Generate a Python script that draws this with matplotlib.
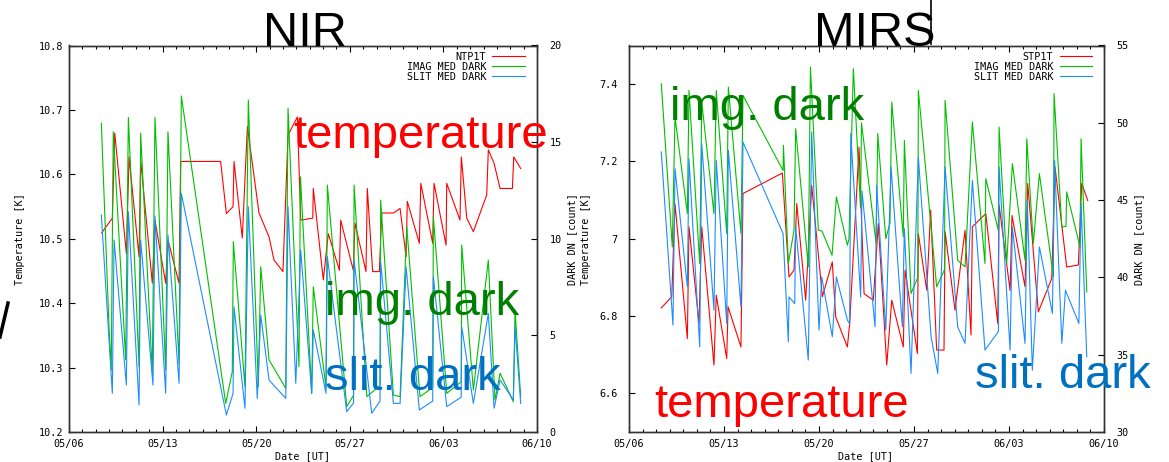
import numpy as np
import pandas as pd
import matplotlib
matplotlib.use("Agg")
import matplotlib.pyplot as plt
import matplotlib.dates as mdates
from matplotlib.lines import Line2D
from matplotlib.ticker import FormatStrFormatter

# ---- NIR panel data (x = days since 05/06) ----
nir_temp_day = [2.44, 3.24, 3.42, 4.29, 4.49, 5.24, 5.36, 6.23,
                6.43, 7.23, 7.40, 8.23, 8.35, 11.34, 11.77, 12.27,
                12.34, 12.96, 13.34, 14.21, 14.96, 15.33, 16.00, 16.38,
                17.08, 17.33, 18.23, 18.27, 19.02, 19.39, 20.22, 20.32,
                21.26, 21.39, 22.21, 22.31, 22.71, 23.21, 23.39, 24.26,
                24.76, 25.21, 25.30, 26.20, 26.31, 27.20, 27.30, 28.20,
                28.25, 29.24, 29.34, 29.75, 30.24, 31.24, 31.36, 31.79,
                32.24, 33.16, 33.26, 33.78]
nir_temp = [10.509, 10.532, 10.664, 10.477, 10.627, 10.472, 10.622, 10.431,
            10.529, 10.431, 10.498, 10.431, 10.620, 10.620, 10.539, 10.550,
            10.620, 10.501, 10.674, 10.540, 10.503, 10.467, 10.449, 10.661,
            10.689, 10.529, 10.532, 10.578, 10.436, 10.508, 10.451, 10.529,
            10.451, 10.524, 10.449, 10.578, 10.449, 10.449, 10.540, 10.540,
            10.547, 10.472, 10.558, 10.493, 10.586, 10.493, 10.586, 10.490,
            10.586, 10.529, 10.627, 10.532, 10.511, 10.568, 10.638, 10.617,
            10.578, 10.578, 10.627, 10.609]

nir_img_day = [2.42, 2.99, 3.16, 3.31, 4.24, 4.44, 5.24, 5.36,
               6.23, 6.43, 7.23, 7.40, 8.23, 8.40, 11.72, 12.21,
               12.29, 13.16, 13.41, 14.16, 14.34, 14.96, 16.21, 16.38,
               17.20, 17.31, 18.15, 18.27, 19.22, 19.32, 20.77, 21.28,
               21.32, 22.27, 23.26, 23.31, 24.26, 24.76, 25.26, 26.25,
               27.20, 27.25, 28.25, 29.33, 29.37, 30.24, 31.36, 31.86,
               32.24, 33.23, 33.36, 33.78]
nir_img = [15.97, 5.45, 3.20, 15.54, 3.73, 16.28, 3.38, 15.46,
           3.04, 16.28, 3.21, 15.54, 3.55, 17.39, 1.48, 3.12,
           9.85, 2.34, 17.18, 2.34, 8.55, 3.73, 2.26, 16.75,
           3.38, 13.20, 2.00, 7.52, 2.30, 12.78, 1.31, 1.90,
           12.78, 1.83, 2.40, 12.00, 1.91, 1.83, 10.62, 1.83,
           2.30, 11.14, 2.00, 2.60, 9.68, 2.17, 8.90, 1.66,
           3.04, 1.57, 6.30, 1.83]

nir_slit_day = [2.42, 3.24, 3.37, 4.29, 4.44, 5.24, 5.36, 6.28,
                6.43, 7.23, 7.40, 8.23, 8.40, 11.77, 12.27, 12.34,
                13.16, 13.41, 14.08, 14.34, 14.96, 16.21, 16.38, 16.96,
                17.33, 18.15, 18.27, 19.22, 19.32, 20.77, 21.28, 21.32,
                22.64, 23.26, 23.31, 24.26, 24.76, 25.21, 26.20, 27.20,
                27.25, 28.25, 29.33, 29.37, 30.24, 31.36, 31.79, 32.24,
                33.23, 33.36, 33.78]
nir_slit = [11.23, 2.00, 9.94, 2.43, 11.40, 1.40, 9.94, 2.43,
            11.18, 2.00, 10.20, 2.52, 12.35, 0.88, 2.00, 6.48,
            1.23, 11.66, 1.74, 6.05, 2.69, 1.74, 11.66, 2.52,
            9.42, 2.00, 5.28, 2.00, 9.07, 1.05, 1.50, 8.90,
            0.97, 1.60, 8.81, 1.48, 1.48, 8.55, 1.14, 1.60,
            8.04, 1.31, 1.80, 5.45, 1.48, 6.14, 1.23, 2.69,
            1.66, 5.45, 1.48]

# ---- MIRS panel data ----
mirs_temp_day = [2.38, 3.15, 3.39, 4.30, 4.42, 5.16, 5.36, 6.26,
                 6.43, 7.20, 7.30, 8.25, 8.40, 11.30, 11.79, 12.16,
                 12.36, 13.02, 13.46, 14.25, 14.98, 15.23, 16.09, 16.26,
                 16.95, 17.32, 18.00, 18.37, 18.99, 19.36, 20.21, 20.34,
                 21.25, 21.32, 21.94, 22.23, 22.67, 23.21, 23.29, 24.02,
                 24.76, 25.20, 25.30, 26.29, 27.17, 27.27, 28.08, 28.22,
                 29.18, 29.38, 30.16, 31.15, 31.39, 32.25, 33.11, 33.36,
                 33.80]
mirs_temp = [6.821, 6.850, 7.090, 6.742, 7.031, 6.781, 7.031, 6.673,
             6.854, 6.690, 6.824, 6.720, 7.117, 7.170, 6.901, 6.919,
             7.091, 6.841, 7.138, 6.850, 6.940, 6.798, 6.720, 6.781,
             7.237, 6.858, 6.841, 7.039, 6.673, 6.841, 6.720, 6.919,
             6.703, 7.013, 6.867, 7.074, 6.712, 6.712, 7.018, 6.815,
             7.022, 6.751, 7.031, 7.065, 6.781, 7.087, 6.866, 7.060,
             6.876, 7.143, 6.811, 6.897, 7.186, 6.927, 6.932, 7.143,
             7.099]

mirs_img_day = [2.38, 3.19, 3.39, 4.30, 4.42, 5.21, 5.36, 6.26,
                6.43, 7.20, 7.32, 8.25, 8.40, 11.35, 11.38, 11.74,
                12.16, 12.28, 13.21, 13.37, 13.95, 14.22, 14.96, 15.28,
                16.09, 16.21, 16.53, 17.06, 17.13, 18.21, 18.33, 18.92,
                19.23, 19.36, 20.21, 20.29, 20.78, 21.28, 21.32, 22.67,
                23.25, 23.29, 24.22, 24.76, 25.30, 26.23, 26.29, 27.21,
                27.27, 27.83, 28.25, 29.18, 29.31, 29.79, 30.24, 31.27,
                31.32, 31.89, 32.20, 32.25, 33.23, 33.31, 33.73]
mirs_img = [52.53, 41.97, 50.37, 44.13, 52.09, 40.90, 51.34, 44.13,
            52.09, 42.84, 52.31, 42.84, 51.77, 46.92, 48.54, 40.90,
            43.05, 49.62, 40.68, 53.60, 43.05, 43.00, 41.43, 45.20,
            42.08, 42.50, 53.50, 44.50, 50.00, 42.19, 49.30, 42.51,
            43.50, 51.34, 42.62, 48.86, 38.96, 40.00, 52.09, 39.39,
            40.50, 51.45, 41.11, 40.68, 50.05, 40.90, 46.39, 43.05,
            49.72, 40.90, 47.36, 41.11, 48.97, 42.19, 46.71, 40.03,
            51.88, 43.26, 43.30, 45.53, 41.97, 48.97, 39.06]

mirs_slit_day = [2.38, 3.24, 3.39, 4.30, 4.42, 5.21, 5.36, 6.26,
                 6.43, 7.20, 7.32, 8.25, 8.40, 11.35, 11.74, 11.79,
                 12.21, 12.28, 13.21, 13.46, 14.00, 14.20, 14.98, 15.28,
                 16.09, 16.26, 16.34, 17.07, 17.17, 18.13, 18.25, 18.92,
                 19.31, 20.14, 20.29, 20.78, 21.32, 22.26, 22.75, 23.29,
                 24.22, 24.76, 25.30, 26.23, 27.22, 27.27, 28.08, 28.25,
                 29.18, 29.35, 29.72, 30.24, 31.20, 31.36, 31.89, 32.16,
                 33.15, 33.31, 33.73]
mirs_slit = [48.11, 36.91, 47.03, 39.39, 47.68, 35.51, 48.65, 37.88,
             47.57, 37.02, 48.22, 38.09, 48.75, 42.84, 35.83, 38.74,
             38.30, 43.26, 34.65, 49.40, 36.59, 40.03, 36.16, 40.03,
             37.24, 37.00, 49.30, 38.74, 45.60, 36.80, 45.96, 36.59,
             47.14, 36.80, 43.16, 33.79, 47.78, 36.16, 33.79, 47.14,
             36.80, 35.73, 46.28, 35.30, 36.50, 47.14, 35.30, 43.26,
             35.73, 44.99, 34.00, 41.97, 37.67, 47.57, 35.73, 39.17,
             37.02, 44.77, 34.86]

legend_img = "IMAG MED DARK"
legend_slit = "SLIT MED DARK"

start = pd.Timestamp("2024-05-06")
end = pd.Timestamp("2024-06-10")
major_days = pd.date_range(start, end, freq="7D")
minor_days = pd.date_range(start, end, freq="1D")

RED = "#ff0000"
GREEN = "#00c000"
BLUE = "#1e8cff"
MONO = ["DejaVu Sans Mono"]
SANS = ["Liberation Sans", "DejaVu Sans"]
W, H = 1169, 462


def to_dates(days):
    return start + pd.to_timedelta(np.array(days), unit="D")


fig = plt.figure(figsize=(W / 100, H / 100), dpi=100)


def panel(rect, temp_d, temp, img_d, img, slit_d, slit, temp_name,
          tlim, tticks, tfmt, dlim, dticks, left_pad):
    ax = fig.add_axes(rect)
    ax2 = ax.twinx()
    l1, = ax.plot(to_dates(temp_d), temp, color=RED, lw=0.8, label=temp_name)
    l2, = ax2.plot(to_dates(img_d), img, color=GREEN, lw=0.8, label=legend_img)
    l3, = ax2.plot(to_dates(slit_d), slit, color=BLUE, lw=0.8, label=legend_slit)

    ax.set_xlim(start, end)
    ax.set_xticks(major_days)
    ax.set_xticks(minor_days, minor=True)
    ax.xaxis.set_major_formatter(mdates.DateFormatter("%m/%d"))
    ax.set_ylim(*tlim)
    ax.set_yticks(tticks)
    ax.yaxis.set_major_formatter(FormatStrFormatter(tfmt))
    ax2.set_ylim(*dlim)
    ax2.set_yticks(dticks)

    ax.tick_params(axis="x", which="major", direction="in", top=True,
                   length=4.5, width=0.8, pad=5, labelsize=7.3)
    ax.tick_params(axis="x", which="minor", direction="in", top=True,
                   length=2.5, width=0.8)
    ax.tick_params(axis="y", direction="in", length=4, width=0.8,
                   pad=left_pad, labelsize=7.3)
    ax2.tick_params(axis="y", direction="in", length=4, width=0.8,
                    pad=9, labelsize=7.3)
    for a in (ax, ax2):
        for lab in a.get_xticklabels() + a.get_yticklabels():
            lab.set_family(MONO)
        for s in a.spines.values():
            s.set_color("#333333")
            s.set_linewidth(1.0)

    # gnuplot-style key: right-aligned labels, sample line on the right
    ax_w = rect[2] * W
    ax_h = rect[3] * H
    ax2.legend([l1, l2, l3], [temp_name, legend_img, legend_slit],
               loc="upper right", frameon=False, markerfirst=False,
               prop={"family": MONO, "size": 7.3}, handlelength=3.2,
               labelspacing=0.0, borderaxespad=0.0, handletextpad=0.6,
               bbox_to_anchor=(1 - 8 / ax_w, 1 - 2 / ax_h))
    return ax, ax2


panel([69 / W, 30 / H, 468 / W, 386.5 / H],
      nir_temp_day, nir_temp, nir_img_day, nir_img, nir_slit_day, nir_slit,
      "NTP1T", (10.2, 10.8), np.arange(10.2, 10.81, 0.1), "%.1f",
      (0, 20), [0, 5, 10, 15, 20], 4)
panel([629 / W, 30 / H, 475 / W, 386.5 / H],
      mirs_temp_day, mirs_temp, mirs_img_day, mirs_img, mirs_slit_day, mirs_slit,
      "STP1T", (6.5, 7.5), [6.6, 6.8, 7.0, 7.2, 7.4], "%g",
      (30, 55), [30, 35, 40, 45, 50, 55], 8)


def ftext(x, y, s, **kw):
    fig.text(x / W, 1 - y / H, s, **kw)


# titles
ftext(305, 46, "NIR", ha="center", va="baseline", fontsize=35, family=SANS)
ftext(875, 46, "MIRS", ha="center", va="baseline", fontsize=35, family=SANS)

# axis labels
lab = dict(family=MONO, fontsize=7.3, rotation=90, ha="center", va="center")
ftext(20, 239, "Temperature [K]", **lab)
ftext(572, 239, "DARK DN [count]", **lab)
ftext(586, 239, "Temperature [K]", **lab)
ftext(1139, 239, "DARK DN [count]", **lab)
ftext(303, 456, "Date [UT]", family=MONO, fontsize=7.3, ha="center", va="center")
ftext(866, 456, "Date [UT]", family=MONO, fontsize=7.3, ha="center", va="center")

# big annotations
big = dict(fontsize=34, family=SANS, ha="left", va="baseline")
ftext(293, 148, "temperature", color="#ff0000", **big)
ftext(325, 315, "img. dark", color="#008000", **big)
ftext(325, 390, "slit. dark", color="#0070c0", **big)
ftext(670, 120, "img. dark", color="#008000", **big)
ftext(654, 417, "temperature", color="#ff0000", **big)
ftext(975, 388, "slit. dark", color="#0070c0", **big)

# stray marks from the slide
fig.add_artist(Line2D([8 / W, 0], [1 - 303 / H, 1 - 337 / H], color="black", lw=2.5))
fig.add_artist(Line2D([931 / W, 931 / W], [1.0, 1 - 44 / H], color="black", lw=1.2))

fig.savefig("out.png", dpi=100)
